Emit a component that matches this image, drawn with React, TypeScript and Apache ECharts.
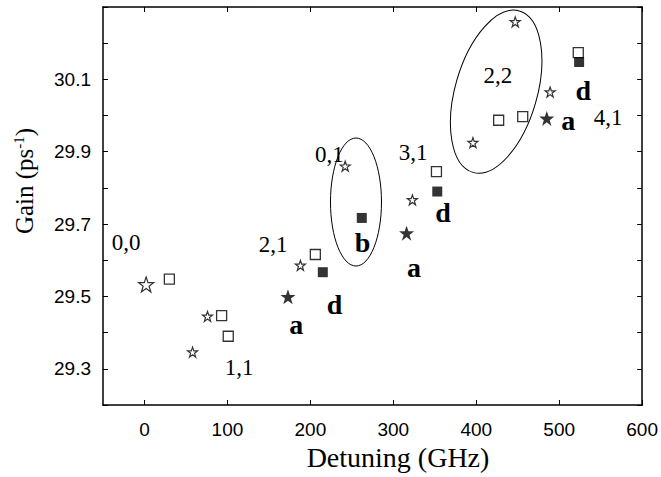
import React, { useEffect, useRef } from "react";
import * as echarts from "echarts";

// Data
const openStarX = [58, 76, 188, 242, 323, 396, 447, 489];
const openStarY = [29.346, 29.445, 29.586, 29.86, 29.767, 29.925, 30.259, 30.065];
const bigOpenStarX = [2];
const bigOpenStarY = [29.533];
const filledStarX = [173, 316, 485];
const filledStarY = [29.499, 29.675, 29.992];
const openSquareX = [30, 93, 101, 206, 352, 427, 456, 523];
const openSquareY = [29.548, 29.447, 29.39, 29.616, 29.845, 29.987, 29.997, 30.174];
const filledSquareX = [215, 262, 353, 524];
const filledSquareY = [29.567, 29.717, 29.79, 30.148];

const modeLabels = ["0,0", "1,1", "2,1", "0,1", "3,1", "2,2", "4,1"];
const modeLabelX = [-22, 114, 155, 223, 324, 426, 559];
const modeLabelY = [29.648, 29.304, 29.643, 29.891, 29.899, 30.111, 29.995];

const letterLabels = ["a", "d", "b", "a", "d", "a", "d"];
const letterLabelX = [183, 229, 263, 325, 360, 511, 529];
const letterLabelY = [29.422, 29.477, 29.648, 29.579, 29.731, 29.987, 30.07];

const xTicks = [0, 100, 200, 300, 400, 500, 600];
const yTicks = [29.2, 29.3, 29.4, 29.5, 29.6, 29.7, 29.8, 29.9, 30.0, 30.1, 30.2, 30.3];
const yLabels = [29.3, 29.5, 29.7, 29.9, 30.1];

const xTitle = "Detuning (GHz)";
const yTitle = "Gain (ps{sup|-1})";

// Ellipse annotations: centre in data coords, radii in px, tilt
const ellipseCX = [255, 424];
const ellipseCY = [29.761, 30.066];
const ellipseRX = [25.5, 41];
const ellipseRY = [64, 84];
const ellipseTilt = [0, -0.28];

const STAR =
  "path://M12,0 L14.9,8.1 L23.4,8.1 L16.5,13.2 L19.1,21.4 L12,16.3 L4.9,21.4 L7.5,13.2 L0.6,8.1 L9.1,8.1 Z";

const zip = (xs: number[], ys: number[]) => xs.map((x, i) => [x, ys[i]]);

export default function App() {
  const ref = useRef<HTMLDivElement>(null);
  useEffect(() => {
    if (!ref.current) return;
    const chart = echarts.init(ref.current, null, { renderer: "svg" });
    const sans = "Liberation Sans";
    const serif = "Liberation Serif";
    const axisCommon = {
      type: "value" as const,
      axisLine: { show: true, onZero: false, lineStyle: { color: "#000", width: 1.5 } },
      splitLine: { show: false },
    };
    const tick = (vals: number[]) => ({
      show: true,
      inside: true,
      length: 5,
      customValues: vals,
      lineStyle: { color: "#000", width: 1 },
    });
    const textLabel = (size: number, weight: string) => ({
      show: true,
      position: "top",
      distance: 0,
      align: "center",
      verticalAlign: "middle",
      formatter: (p: any) => p.value[2],
      fontFamily: serif,
      fontSize: size,
      fontWeight: weight,
      color: "#000",
      opacity: 1,
      textBorderWidth: 0,
    });
    chart.setOption({
      animation: false,
      backgroundColor: "#fff",
      color: ["#000"],
      grid: { left: 103, right: 15, top: 7, bottom: 72, show: false },
      xAxis: [
        {
          ...axisCommon,
          min: -50,
          max: 600,
          position: "bottom",
          axisTick: tick(xTicks),
          axisLabel: { customValues: xTicks, margin: 15, color: "#000", fontFamily: sans, fontSize: 19 },
        },
        {
          ...axisCommon,
          min: -50,
          max: 600,
          position: "top",
          axisTick: tick(xTicks),
          axisLabel: { show: false },
        },
      ],
      yAxis: [
        {
          ...axisCommon,
          min: 29.2,
          max: 30.3,
          position: "left",
          axisTick: tick(yTicks),
          axisLabel: {
            customValues: yLabels,
            margin: 12,
            color: "#000",
            fontFamily: sans,
            fontSize: 19,
            formatter: (v: number) => v.toFixed(1),
          },
        },
        {
          ...axisCommon,
          min: 29.2,
          max: 30.3,
          position: "right",
          axisTick: tick(yTicks),
          axisLabel: { show: false },
        },
      ],
      series: [
        {
          type: "scatter",
          data: zip(openStarX, openStarY),
          symbol: STAR,
          symbolSize: 10,
          itemStyle: { color: "#fff", borderColor: "#000", borderWidth: 1.2 },
        },
        {
          type: "scatter",
          data: zip(bigOpenStarX, bigOpenStarY),
          symbol: STAR,
          symbolSize: 15,
          itemStyle: { color: "#fff", borderColor: "#000", borderWidth: 1.2 },
        },
        {
          type: "scatter",
          data: zip(filledStarX, filledStarY),
          symbol: STAR,
          symbolSize: 15,
          itemStyle: { color: "#000" },
        },
        {
          type: "scatter",
          data: zip(openSquareX, openSquareY),
          symbol: "rect",
          symbolSize: 10,
          itemStyle: { color: "#fff", borderColor: "#000", borderWidth: 1.3 },
        },
        {
          type: "scatter",
          data: zip(filledSquareX, filledSquareY),
          symbol: "rect",
          symbolSize: 10,
          itemStyle: { color: "#000" },
        },
        {
          type: "scatter",
          data: modeLabels.map((t, i) => [modeLabelX[i], modeLabelY[i], t]),
          symbolSize: 0,
          itemStyle: { color: "#000" },
          label: textLabel(23, "normal"),
        },
        {
          type: "scatter",
          data: letterLabels.map((t, i) => [letterLabelX[i], letterLabelY[i], t]),
          symbolSize: 0,
          itemStyle: { color: "#000" },
          label: textLabel(28, "bold"),
        },
      ],
    });
    const graphics: any[] = ellipseCX.map((cx, i) => {
      const [px, py] = chart.convertToPixel({ gridIndex: 0 }, [cx, ellipseCY[i]]) as number[];
      return {
        type: "ellipse",
        x: px,
        y: py,
        rotation: ellipseTilt[i],
        shape: { cx: 0, cy: 0, rx: ellipseRX[i], ry: ellipseRY[i] },
        style: { fill: "none", stroke: "#000", lineWidth: 1 },
        z: 10,
      };
    });
    graphics.push({
      type: "text",
      x: 398,
      y: 457,
      style: {
        text: xTitle,
        font: `28px "${serif}"`,
        fill: "#000",
        textAlign: "center",
        textVerticalAlign: "middle",
      },
    });
    graphics.push({
      type: "text",
      x: 24,
      y: 181,
      rotation: Math.PI / 2,
      style: {
        text: yTitle,
        font: `25px "${serif}"`,
        fill: "#000",
        textAlign: "center",
        textVerticalAlign: "middle",
        rich: {
          sup: { font: `15px "${serif}"`, verticalAlign: "top", padding: [0, 0, 10, 0] },
        },
      },
    });
    chart.setOption({ graphic: graphics });
    return () => chart.dispose();
  }, []);
  return (
    <div
      ref={ref}
      style={{ position: "fixed", left: 0, top: 0, width: 661, height: 477 }}
    />
  );
}
